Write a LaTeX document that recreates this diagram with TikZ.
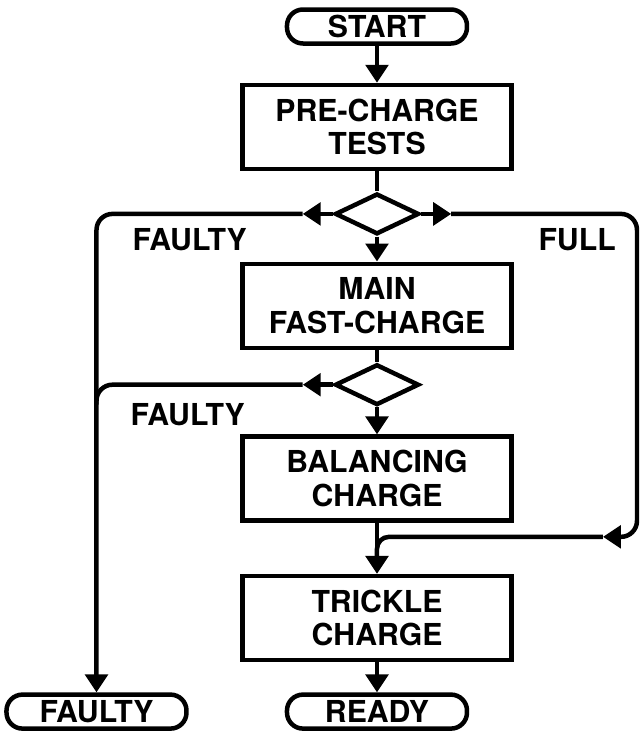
\documentclass[tikz,border=0pt]{standalone}
\usepackage{fontspec}
\setmainfont{TeX Gyre Heros}
\usetikzlibrary{arrows.meta,positioning,shapes.geometric}

\begin{document}
\begin{tikzpicture}[
  >={Triangle[length=0.45cm,width=0.56cm]},
  line width=3.2pt,
  every node/.style={font=\fontsize{21.5}{24}\selectfont\bfseries},
  stepbox/.style={draw, minimum width=6.725cm, minimum height=2.1cm, align=center, inner sep=2pt},
  termbox/.style={draw, rounded corners=0.4cm, minimum width=4.5cm, minimum height=0.85cm, inner sep=0pt},
  testbox/.style={draw, diamond, minimum width=2.1cm, minimum height=1.02cm, inner sep=0pt},
  lbl/.style={inner sep=0pt}
]
\useasboundingbox (-9.425,0.6625) rectangle (6.65,-17.6875);

\node[termbox] (start) {START};
\node[stepbox, below=0.925cm of start] (pretest) {PRE-CHARGE\\TESTS};
\node[testbox, below=0.5cm of pretest] (test1) {};
\node[stepbox, below=0.625cm of test1] (fastchg) {MAIN\\FAST-CHARGE};
\node[testbox, below=0.3cm of fastchg] (test2) {};
\node[stepbox, below=0.675cm of test2] (balchg) {BALANCING\\CHARGE};
\node[stepbox, below=1.275cm of balchg] (tricklechg) {TRICKLE\\CHARGE};
\node[termbox, below=0.75cm of tricklechg] (ready) {READY};
\node[termbox, left=2.4cm of ready] (faulty) {FAULTY};

% branch points
\coordinate (rightx) at (6.5,0);
\coordinate (tipx) at (5.65,0);
\coordinate[left=0.75cm of test1.west] (f1tip);
\coordinate[right=0.75cm of test1.east] (fulltip);
\coordinate[left=0.75cm of test2.west] (f2tip);
\coordinate (f1corner) at (faulty |- f1tip);
\coordinate (f2corner) at (faulty |- f2tip);
\coordinate[below=0.5cm of f2corner] (f2down);
\coordinate (fullcorner) at (rightx |- fulltip);
\coordinate[below=0.35cm of balchg.south] (merge);
\coordinate[below=0.5cm of merge] (mergedown);
\coordinate (mergecorner) at (rightx |- merge);
\coordinate (mergetip) at (tipx |- merge);

\node[lbl, below right=0.3cm and 0.85cm of f1corner] (faultylbl1) {FAULTY};
\node[lbl, below left=0.3cm and 0.475cm of fullcorner] (fulllbl) {FULL};
\node[lbl, below right=0.42cm and 0.8cm of f2corner] (faultylbl2) {FAULTY};

% main line
\draw[->] (start) -- (pretest);
\draw (pretest) -- (test1);
\draw[->] (test1) -- (fastchg);
\draw (fastchg) -- (test2);
\draw[->] (test2) -- (balchg);
\draw[->] (balchg) -- (tricklechg);
\draw[->] (tricklechg) -- (ready);

% faulty branches
\draw[->] (test1.west) -- (f1tip);
\draw[->, rounded corners=0.4cm] (f1tip) -- (f1corner) -- (faulty);
\draw[->] (test2.west) -- (f2tip);
\draw[rounded corners=0.4cm] (f2tip) -- (f2corner) -- (f2down);

% full branch
\draw[->] (test1.east) -- (fulltip);
\draw[->, rounded corners=0.4cm] (fulltip) -- (fullcorner) -- (mergecorner) -- (mergetip);
\draw[rounded corners=0.3cm] (mergetip) -- (merge) -- (mergedown);
\end{tikzpicture}
\end{document}
